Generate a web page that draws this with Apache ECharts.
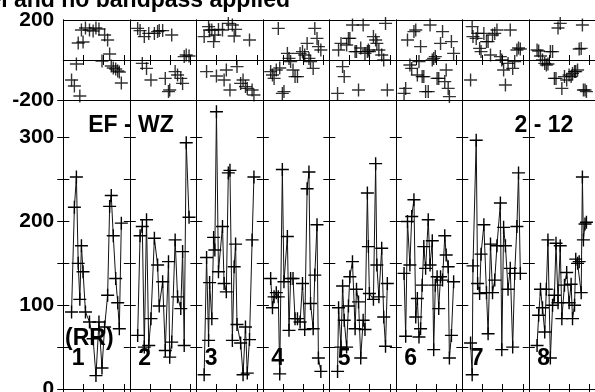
<!DOCTYPE html>
<html><head><meta charset="utf-8">
<script src="https://cdn.jsdelivr.net/npm/echarts@6/dist/echarts.min.js"></script>
<style>html,body{margin:0;padding:0;background:#fff}#c{width:595px;height:392px}</style>
</head><body><div id="c"></div>
<script>
// ---- data ----
const segLabels = ['1','2','3','4','5','6','7','8'];
const ampTickLabels = [0, 100, 200, 300];
const phaseTickLabels = [-200, 200];

const x1 = [0.41,0.55,0.65,0.74,0.82,0.9,0.98,1.1,1.3,1.48,1.62,1.77,1.92,2.05,2.2,2.3,2.38,2.48,2.6,2.7,2.78,2.88];
const amp1 = [92,217,253,150,107,171,140,92,80,60,16,80,25,74,112,218,231,183,132,103,72,198];
const ph1 = [-100,-130,-20,85,-180,150,90,160,150,145,160,155,-5,125,100,30,-30,-40,-45,-55,-60,-115];

const x2 = [0.39,0.51,0.62,0.72,0.83,0.94,1.05,1.22,1.38,1.46,1.63,1.76,1.92,1.98,2.08,2.25,2.37,2.53,2.62,2.7,2.8,2.94];
const amp2 = [64,183,194,50,202,52,84,180,148,99,128,46,152,38,56,178,110,96,164,52,294,205];
const ph2 = [158,147,-17,117,-42,133,-100,133,142,147,147,-92,-158,-150,125,-58,-75,-92,-117,17,25,20];

const x3 = [0.39,0.51,0.61,0.66,0.77,0.86,0.92,1.0,1.1,1.3,1.38,1.49,1.59,1.67,1.79,1.88,1.95,2.02,2.2,2.32,2.44,2.53,2.64,2.77,2.86];
const amp3 = [17,157,58,127,84,181,166,331,140,194,126,116,258,261,58,146,173,77,55,17,74,19,59,178,253];
const ph3 = [117,-58,167,150,150,92,125,-80,153,150,-100,-50,183,-150,175,120,153,-33,-117,-100,-133,-142,100,-150,-175];

const x4 = [0.39,0.48,0.56,0.67,0.77,0.84,0.97,1.05,1.22,1.3,1.38,1.5,1.6,1.72,1.85,1.97,2.08,2.2,2.29,2.37,2.5,2.58,2.69,2.76,2.88];
const amp4 = [132,97,110,115,110,18,262,128,182,70,132,132,84,84,80,126,71,239,259,102,72,136,196,37,21];
const ph4 = [-58,-75,-92,-50,158,-40,-167,-158,33,8,-8,-50,-83,-83,33,42,25,83,8,-8,-42,158,108,67,50];

const x5 = [0.41,0.46,0.58,0.66,0.74,0.86,0.95,1.02,1.15,1.28,1.35,1.45,1.56,1.68,1.77,1.89,1.94,1.99,2.19,2.3,2.36,2.46,2.6,2.7,2.79,2.88];
const amp5 = [21,97,50,123,82,50,99,134,152,72,119,104,37,82,71,234,170,114,107,269,148,110,168,86,51,126];
const ph5 = [-167,50,83,-33,-83,75,108,108,175,42,42,-150,60,175,33,42,50,42,117,100,83,50,25,0,183,-150];

const x6 = [0.41,0.49,0.58,0.7,0.79,0.9,0.99,1.07,1.15,1.23,1.31,1.39,1.48,1.61,1.7,1.81,1.88,1.96,2.05,2.13,2.22,2.32,2.43,2.5,2.6,2.66,2.76,2.87];
const amp6 = [138,63,200,148,206,226,86,108,62,72,124,170,144,202,148,177,47,124,134,96,134,130,183,160,146,37,64,128];
const ph6 = [-167,-142,100,-25,-42,142,150,-75,-8,67,-83,-83,-158,-158,175,0,8,17,-92,-92,83,142,-108,-50,-142,-183,92,33];

const x7 = [0.41,0.49,0.53,0.69,0.76,0.86,0.93,1.07,1.2,1.28,1.4,1.5,1.61,1.72,1.89,1.96,2.05,2.14,2.27,2.38,2.5,2.6,2.71,2.79,2.88];
const amp7 = [55,17,147,297,126,114,161,196,115,66,173,115,130,171,222,47,193,171,119,144,50,138,194,258,138];
const ph7 = [-100,167,117,108,133,58,42,133,92,92,25,125,133,150,17,0,-50,-125,-17,150,-42,-8,50,60,55];

const x8 = [0.41,0.49,0.58,0.68,0.79,0.87,0.95,1.07,1.18,1.27,1.35,1.45,1.56,1.64,1.77,1.88,2.0,2.1,2.17,2.27,2.33,2.42,2.5,2.6,2.66,2.71,2.79,2.86];
const amp8 = [52,88,119,97,68,119,178,37,100,112,174,103,171,84,124,139,103,125,84,100,155,150,152,115,253,178,197,199];
const ph8 = [50,45,20,0,-17,-25,-20,42,42,-92,-92,160,183,-142,-83,-100,-75,-83,-67,-58,-58,-50,55,58,175,-150,-150,-158];

const segX = [x1,x2,x3,x4,x5,x6,x7,x8];
const segAmp = [amp1,amp2,amp3,amp4,amp5,amp6,amp7,amp8];
const segPh = [ph1,ph2,ph3,ph4,ph5,ph6,ph7,ph8];

const titleText = 'Uncalibrated data, no model and no bandpass applied';
const baselineLeft = 'EF - WZ';
const baselineRight = '2 - 12';
const stokesLabel = '(RR)';

// ---- layout ----
const L = 63.3, W = 66.5;
const FONT = '"Liberation Sans", Arial, sans-serif';
const PLUS = 'path://M5.8,0H7.2V5.8H13V7.2H7.2V13H5.8V7.2H0V5.8H5.8Z';
const grid = [], xAxis = [], yAxis = [], series = [];
const axLine = {show: true, lineStyle: {color: '#000', width: 1}};

for (let i = 0; i < 8; i++) {
  grid.push({left: L + i * W, top: 20, width: W, height: 80, outerBoundsMode: 'none', containLabel: false});
  grid.push({left: L + i * W, top: 100, width: W, height: 289, outerBoundsMode: 'none', containLabel: false});
  for (let k = 0; k < 2; k++) {
    const g = 2 * i + k;
    ['bottom', 'top'].forEach(pos => {
      xAxis.push({type: 'value', gridIndex: g, position: pos, min: 0, max: 3.3, interval: 1,
        axisLine: axLine, axisTick: {show: true, inside: true, length: 5, lineStyle: {color: '#000'}},
        axisLabel: {show: false}, splitLine: {show: false}});
    });
  }
  yAxis.push({type: 'value', gridIndex: 2 * i, position: 'left', min: -200, max: 200, interval: 200,
    axisLine: axLine, axisTick: {show: false},
    splitLine: {show: true, lineStyle: {color: '#000', width: 1}},
    axisLabel: {show: i === 0, fontSize: 21, fontWeight: 'bold', color: '#000', fontFamily: FONT, margin: 9,
      formatter: v => phaseTickLabels.indexOf(v) >= 0 ? String(v) : ''}});
  yAxis.push({type: 'value', gridIndex: 2 * i, position: 'right', min: -200, max: 200, interval: 200,
    axisLine: axLine, axisTick: {show: false}, splitLine: {show: false}, axisLabel: {show: false}});
  yAxis.push({type: 'value', gridIndex: 2 * i + 1, position: 'left', min: 0, max: 345, interval: 50,
    axisLine: axLine, axisTick: {show: true, inside: true, length: 6, lineStyle: {color: '#000'}},
    splitLine: {show: false},
    axisLabel: {show: i === 0, fontSize: 21, fontWeight: 'bold', color: '#000', fontFamily: FONT, margin: 9,
      showMaxLabel: false,
      formatter: v => ampTickLabels.indexOf(v) >= 0 ? String(v) : ''}});
  yAxis.push({type: 'value', gridIndex: 2 * i + 1, position: 'right', min: 0, max: 345, interval: 50,
    axisLine: axLine, axisTick: {show: true, inside: true, length: 6, lineStyle: {color: '#000'}},
    splitLine: {show: false}, axisLabel: {show: false}});

  series.push({type: 'scatter', xAxisIndex: 4 * i, yAxisIndex: 4 * i,
    data: segX[i].map((x, j) => [x, segPh[i][j]]),
    symbol: PLUS, symbolSize: 13, itemStyle: {color: '#000'}, silent: true, animation: false});
  series.push({type: 'line', xAxisIndex: 4 * i + 2, yAxisIndex: 4 * i + 2,
    data: segX[i].map((x, j) => [x, segAmp[i][j]]),
    symbol: PLUS, symbolSize: 13, showAllSymbol: true,
    lineStyle: {color: '#111', width: 1}, itemStyle: {color: '#000'}, silent: true, animation: false});
}

const txt = (text, x, y, align, size) => ({type: 'text', x, y, silent: true, z: 100,
  style: {text, fill: '#000', font: 'bold ' + size + 'px ' + FONT, align, verticalAlign: 'middle'}});

const graphic = [
  txt(titleText, 290, 1, 'right', 23),
  txt(baselineLeft, 131, 126, 'center', 23),
  txt(baselineRight, 544, 126, 'center', 23),
  txt(stokesLabel, 65, 339, 'left', 23)
];
segLabels.forEach((s, i) => graphic.push(txt(s, L + i * W + 8.5, 359, 'left', 23)));

const chart = echarts.init(document.getElementById('c'), null, {renderer: 'canvas'});
chart.setOption({animation: false, grid, xAxis, yAxis, series, graphic});
</script>
</body></html>
